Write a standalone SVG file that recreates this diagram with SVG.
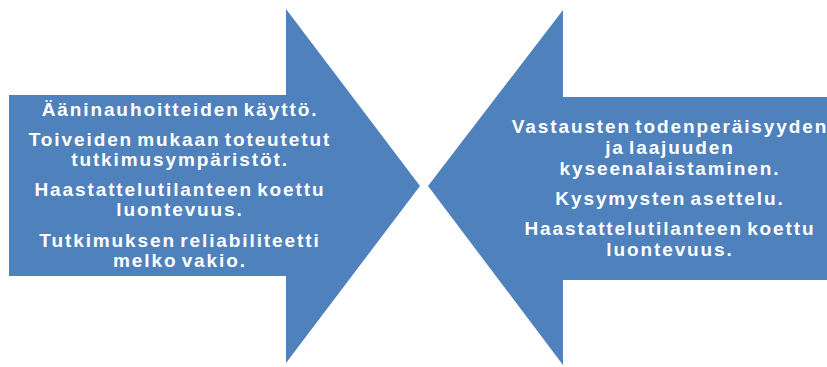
<svg xmlns="http://www.w3.org/2000/svg" width="827" height="367" viewBox="0 0 827 367">
<style>
.arrow{fill:#4F81BD;}
.t{font-family:"Liberation Sans",Arial,sans-serif;font-size:19px;font-weight:bold;fill:#FFFFFF;text-anchor:middle;letter-spacing:1.9px;word-spacing:-3px;}
</style>
<rect width="827" height="367" fill="#FFFFFF"/>
<g id="left-arrow">
<polygon class="arrow" points="9,95 286,95 286,9 420,186 286,363 286,276 9,276"/>
<text class="t" x="180" y="116">Ääninauhoitteiden käyttö.</text>
<text class="t" x="180" y="146">Toiveiden mukaan toteutetut</text>
<text class="t" x="180" y="166">tutkimusympäristöt.</text>
<text class="t" x="180" y="196">Haastattelutilanteen koettu</text>
<text class="t" x="180" y="216">luontevuus.</text>
<text class="t" x="180" y="247">Tutkimuksen reliabiliteetti</text>
<text class="t" x="180" y="267">melko vakio.</text>
</g>
<g id="right-arrow">
<polygon class="arrow" points="827,97 563,97 563,10 428,186 563,365 563,280 827,280"/>
<text class="t" x="670" y="133">Vastausten todenperäisyyden</text>
<text class="t" x="670" y="154">ja laajuuden</text>
<text class="t" x="670" y="175">kyseenalaistaminen.</text>
<text class="t" x="670" y="205">Kysymysten asettelu.</text>
<text class="t" x="670" y="235">Haastattelutilanteen koettu</text>
<text class="t" x="670" y="256">luontevuus.</text>
</g>
</svg>
